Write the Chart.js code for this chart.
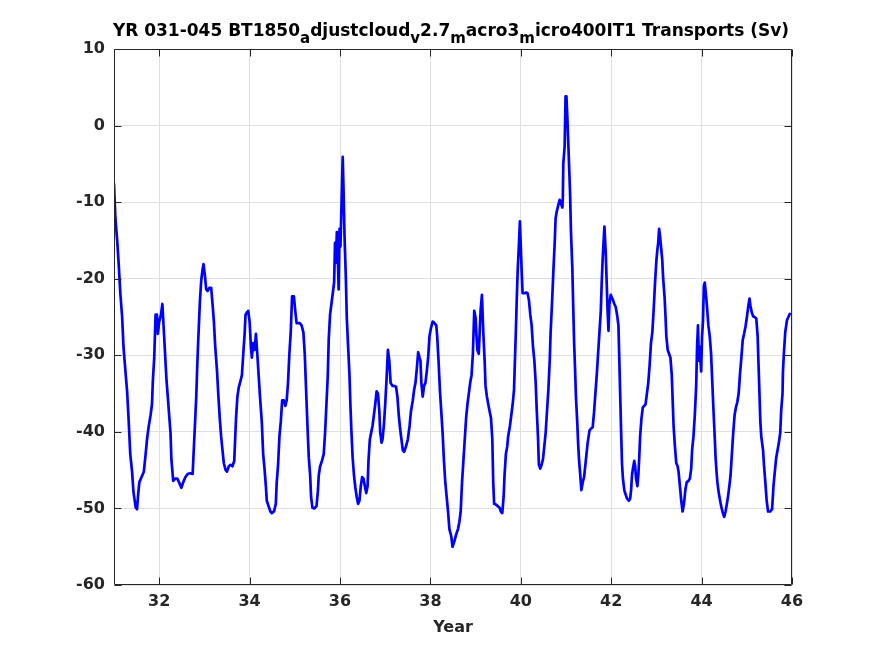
<!DOCTYPE html>
<html>
<head>
<meta charset="utf-8">
<script src="https://cdn.jsdelivr.net/npm/chart.js@4.4.0/dist/chart.umd.min.js"></script>
<style>
  html, body { margin: 0; padding: 0; background: #ffffff; }
  #wrap { width: 875px; height: 656px; }
</style>
</head>
<body>
<div id="wrap"><canvas id="c" width="875" height="656"></canvas></div>
<script>
// ---- data ----
const years = [
  31.00,31.03,31.07,31.10,31.14,31.18,31.21,31.26,31.29,31.32,31.36,31.40,31.43,31.48,31.51,31.53,31.56,31.61,31.66,31.70,
  31.73,31.77,31.81,31.84,31.86,31.89,31.92,31.95,31.97,32.00,32.04,32.07,32.10,32.13,32.16,32.19,32.22,32.25,32.27,32.31,
  32.36,32.40,32.44,32.49,32.53,32.58,32.63,32.68,32.74,32.76,32.79,32.82,32.84,32.86,32.88,32.90,32.93,32.96,32.98,33.01,
  33.04,33.07,33.11,33.15,33.18,33.21,33.24,33.28,33.31,33.34,33.37,33.40,33.43,33.47,33.50,33.54,33.58,33.62,33.66,33.68,
  33.70,33.73,33.76,33.80,33.83,33.86,33.89,33.91,33.94,33.97,34.00,34.03,34.05,34.08,34.11,34.14,34.17,34.20,34.23,34.27,
  34.30,34.33,34.36,34.38,34.42,34.46,34.49,34.54,34.58,34.60,34.63,34.66,34.69,34.72,34.76,34.79,34.82,34.85,34.88,34.91,
  34.94,34.98,35.01,35.04,35.07,35.11,35.15,35.19,35.22,35.25,35.28,35.31,35.34,35.36,35.39,35.43,35.48,35.51,35.53,35.56,
  35.60,35.64,35.67,35.70,35.73,35.75,35.78,35.81,
  35.87,35.89,35.91,35.93,35.95,35.97,35.99,36.01,36.04,36.06,36.08,36.10,36.13,36.15,36.18,36.21,36.23,36.25,36.28,36.31,
  36.34,36.37,36.40,36.43,36.46,36.49,36.52,36.55,36.58,36.61,36.63,36.66,36.69,36.72,36.75,36.78,36.81,36.84,36.87,36.89,
  36.92,36.94,36.97,37.00,37.03,37.06,37.09,37.12,37.16,37.20,37.24,37.27,37.30,37.33,37.36,37.39,37.42,37.46,37.50,37.54,
  37.57,37.61,37.64,37.67,37.70,37.73,37.76,37.78,37.80,37.83,37.86,37.89,37.92,37.95,37.98,38.01,38.05,38.09,38.13,38.15,
  38.18,38.21,38.24,38.27,38.30,38.33,38.36,38.39,38.42,38.46,38.49,38.53,38.57,38.61,38.64,38.67,38.70,38.73,38.76,38.79,
  38.82,38.85,38.88,38.91,38.94,38.97,39.00,39.02,39.04,39.07,39.09,39.11,39.14,39.17,39.20,39.22,39.25,39.28,39.31,39.34,
  39.37,39.39,39.41,39.45,39.49,39.53,39.56,39.59,39.62,39.64,39.67,39.70,39.72,39.76,39.79,39.82,39.85,39.87,39.89,39.91,
  39.93,39.96,39.98,40.00,40.02,40.04,40.08,40.12,40.15,40.18,40.21,40.24,40.27,40.30,40.33,40.35,40.38,40.40,40.43,40.46,
  40.49,40.52,40.55,40.58,40.61,40.64,40.66,40.69,40.72,40.75,40.77,40.80,40.83,40.86,40.89,40.92,40.93,40.94,40.97,40.99,
  41.01,
  41.03,41.05,41.07,41.09,41.11,41.14,41.16,41.18,41.20,41.22,41.25,41.27,41.29,41.31,41.34,41.37,41.40,41.42,41.45,41.48,
  41.52,41.55,41.59,41.62,41.65,41.68,41.71,41.74,41.77,41.79,41.81,41.83,41.85,41.88,41.90,41.92,41.94,41.96,41.99,42.01,
  42.04,42.07,42.10,42.13,42.16,42.18,42.20,42.22,42.24,42.26,42.29,42.32,42.35,42.39,42.42,42.44,42.46,42.48,42.51,42.53,
  42.55,42.58,42.60,42.62,42.64,42.67,42.70,42.73,42.76,42.79,42.82,42.85,42.88,42.91,42.94,42.97,43.00,43.02,43.04,43.06,
  43.08,43.11,43.13,43.15,43.18,43.20,43.22,43.25,43.28,43.31,43.34,43.36,43.38,43.41,43.44,43.47,43.49,43.52,43.55,43.58,
  43.61,43.64,43.67,43.71,43.74,43.77,43.79,43.82,43.85,43.88,43.90,43.92,43.94,43.96,43.99,44.01,44.03,44.05,44.07,44.10,
  44.12,44.15,44.18,44.21,44.23,44.26,44.29,44.31,44.33,44.35,44.38,44.41,44.44,44.47,44.50,44.53,44.56,44.59,44.62,44.64,
  44.67,44.70,44.73,44.76,44.79,44.82,44.85,44.88,44.91,44.94,44.97,45.00,45.02,45.04,45.06,45.08,45.11,45.14,45.17,45.21,
  45.24,45.26,45.28,45.30,45.32,45.36,45.38,45.41,45.44,45.47,45.52,45.56,45.59,45.62,45.65,45.68,45.71,45.74,45.76,45.79,
  45.80,45.82,45.85,45.89,45.95
];
const transports = [
  -7.6,-12,-15,-17.7,-21.9,-25,-28.9,-32.6,-34.7,-38,-42.9,-45.2,-47.8,-49.9,-50.1,-48.5,-46.6,-45.9,-45.2,-42.9,
  -41,-39.2,-37.8,-36.4,-33.3,-30.3,-24.7,-24.7,-27.2,-25.6,-24.7,-23.3,-26.5,-29.8,-33.1,-35.4,-37.8,-40.1,-43.6,-46.4,
  -46.1,-46.1,-46.6,-47.3,-46.6,-45.9,-45.5,-45.4,-45.5,-42.9,-39.2,-35.4,-31.7,-28.6,-25.8,-23,-20.2,-18.8,-18.1,-19.5,
  -21.4,-21.6,-21.2,-21.2,-23.3,-25.6,-28.9,-32.1,-35.4,-38.2,-40.6,-42.4,-44.1,-45,-45.2,-44.5,-44.3,-44.5,-43.8,-41,
  -38.2,-35.4,-34.2,-33.3,-32.6,-29.8,-27.2,-24.7,-24.4,-24.2,-25.6,-28.9,-30.3,-28.4,-29.3,-27.2,-29.8,-32.6,-35.4,-38.7,
  -42.9,-44.8,-47.1,-49,-49.7,-50.4,-50.6,-50.4,-49.4,-46.6,-44.3,-40.6,-38.7,-35.9,-35.9,-36.6,-35.9,-33.6,-29.8,-27,
  -22.3,-22.3,-24.2,-25.8,-25.8,-25.8,-26.1,-27,-29.8,-34.5,-39.2,-43.4,-45.7,-48.5,-49.9,-50,-49.7,-47.8,-45.7,-44.5,
  -43.8,-42.9,-40.1,-36.4,-32.6,-28,-24.7,-23.3,
  -20.5,-15.3,-17.9,-13.9,-16.7,-21.4,-13.5,-15.8,-8.8,-4.1,-8.8,-14.4,-20,-25.1,-28.9,-32.6,-36.4,-39.6,-43.4,-45.7,
  -47.3,-48.5,-49.4,-49,-47.1,-45.9,-46.1,-47.1,-48,-47.1,-43.8,-41,-40.1,-39.2,-37.8,-36.4,-34.7,-35,-37.3,-40.1,
  -41.4,-41,-39.2,-36.4,-33.1,-29.3,-30.7,-33.6,-34,-34,-34.1,-35.4,-37.8,-39.6,-41,-42.4,-42.6,-41.9,-41,-39.2,
  -37.3,-35.9,-34.5,-33.6,-31.7,-29.6,-30.3,-30.7,-33.6,-35.4,-34,-33.6,-32.1,-30.3,-27.5,-26.5,-25.6,-25.8,-26.1,-27.5,
  -30.7,-34.5,-37.3,-40.1,-43.8,-46.6,-48.5,-50.4,-52.7,-53.6,-55,-54.3,-53.4,-52.7,-51.8,-50.4,-46.6,-43.8,-41,-38.2,
  -36.4,-35,-33.6,-32.6,-29.8,-24.2,-25.1,-27.5,-29.3,-29.8,-27,-24.2,-22.1,-27,-30.7,-34,-35.4,-36.4,-37.3,-38.2,
  -41,-46.6,-49.4,-49.5,-49.7,-49.9,-50.4,-50.6,-48.5,-45.7,-42.9,-41.9,-40.6,-39.2,-37.8,-36.4,-34.5,-30.7,-27,-22.8,
  -19.1,-15.3,-12.5,-15.8,-19.1,-21.9,-21.9,-21.8,-21.9,-22.8,-24.7,-26.1,-28.9,-30.7,-33.6,-36.8,-40.6,-44.3,-44.8,-44.3,
  -43.6,-41.9,-40.1,-37.3,-34.5,-30.7,-27,-23.3,-19.1,-15.3,-12.1,-11.1,-10.4,-9.7,-10.2,-10.7,-9.3,-5,-2.7,3.8,
  3.8,
  1,-2.2,-5.5,-8.8,-13.9,-18.6,-23.7,-28.4,-31.7,-35.4,-38.9,-41.7,-43.8,-45.2,-47.6,-46.6,-45.9,-44.8,-43.1,-41.4,
  -39.8,-39.6,-39.4,-37.5,-35,-32.6,-29.8,-27,-24.2,-20.5,-17.6,-15.3,-13.2,-16.7,-20.5,-24.2,-26.8,-23.3,-22.1,-22.4,
  -22.8,-23.3,-23.7,-24.7,-26.1,-30.7,-35.4,-40.1,-44.3,-46.1,-47.6,-48.2,-48.7,-49,-48.7,-47.6,-45.7,-44.8,-43.8,-44.5,
  -46.1,-47.1,-45.7,-43.4,-40.6,-38.2,-36.8,-36.6,-36.4,-35,-33.6,-31.3,-28.4,-27,-24,-20.5,-17.6,-16.3,-15.3,-13.5,
  -14.4,-16.3,-17.6,-20,-22.3,-24.7,-27.5,-29.3,-29.8,-30.3,-32.6,-35.9,-39.2,-41.9,-44.1,-44.5,-45.2,-47.1,-49,-50.4,
  -49.4,-47.6,-46.6,-46.4,-46.1,-44.8,-42.4,-40.6,-37.8,-34,-28.9,-26.1,-30.7,-28.9,-32.1,-27.5,-25.6,-20.9,-20.5,-22.3,
  -23.7,-26.1,-27.5,-29.8,-32.6,-36.8,-40.6,-43.4,-45.2,-46.6,-48,-49,-49.9,-50.6,-51.1,-50.4,-49.4,-48.2,-46.8,-45.7,
  -42.9,-40.1,-37.8,-36.8,-36.1,-35,-32.4,-30.3,-28,-27.2,-26.3,-25.1,-24.2,-23.3,-22.6,-23.5,-24.4,-24.9,-25,-25.2,
  -27.5,-31.3,-35,-38.7,-40.6,-42.4,-44.3,-46.6,-49,-50.4,-50.4,-50.1,-47.1,-45.2,-43.4,-42.4,-41.4,-40.1,-37.3,-35,
  -32.1,-29.8,-27,-25.4,-24.6
];
const xTicks = [32, 34, 36, 38, 40, 42, 44, 46];
const yTicks = [-60, -50, -40, -30, -20, -10, 0, 10];
const titleText = 'YR 031-045 BT1850_adjustcloud_v2.7_macro3_micro400IT1 Transports (Sv)';
// title pieces: [text, isSubscript]
const titleParts = [
  ['YR 031-045 BT1850', false], ['a', true], ['djustcloud', false], ['v', true],
  ['2.7', false], ['m', true], ['acro3', false], ['m', true], ['icro400IT1 Transports (Sv)', false]
];
const xLabel = 'Year';

// ---- plot ----
const FONT = 'DejaVu Sans';
const AXC = '#262626';

const matlabAxes = {
  id: 'matlabAxes',
  afterDatasetsDraw(chart) {
    const {ctx, chartArea: a, scales: {x, y}} = chart;
    ctx.save();
    ctx.strokeStyle = AXC;
    ctx.lineWidth = 1;
    const L = Math.round(a.left) + 0.5, R = Math.round(a.right) - 0.5;
    const T = Math.round(a.top) + 0.5, B = Math.round(a.bottom) - 0.5;
    ctx.beginPath();
    ctx.rect(L, T, R - L, B - T);
    const tl = 7;
    xTicks.forEach(v => {
      const px = Math.round(x.getPixelForValue(v)) + 0.5;
      ctx.moveTo(px, B); ctx.lineTo(px, B - tl);
      ctx.moveTo(px, T); ctx.lineTo(px, T + tl);
    });
    yTicks.forEach(v => {
      const py = Math.round(y.getPixelForValue(v)) + 0.5;
      ctx.moveTo(L, py); ctx.lineTo(L + tl, py);
      ctx.moveTo(R, py); ctx.lineTo(R - tl, py);
    });
    ctx.stroke();
    ctx.restore();
  },
  afterDraw(chart) {
    const {ctx, chartArea: a} = chart;
    ctx.save();
    ctx.fillStyle = '#000000';
    ctx.textBaseline = 'alphabetic';
    ctx.textAlign = 'left';
    const mainFont = 'bold 17px "' + FONT + '"';
    const subFont = 'bold 15px "' + FONT + '"';
    let total = 0;
    const widths = titleParts.map(([t, s]) => {
      ctx.font = s ? subFont : mainFont;
      const w = ctx.measureText(t).width;
      total += w;
      return w;
    });
    let xpos = (a.left + a.right) / 2 - 2 - total / 2;
    const base = 36;
    titleParts.forEach(([t, s], i) => {
      ctx.font = s ? subFont : mainFont;
      ctx.fillText(t, xpos, s ? base + 6.5 : base);
      xpos += widths[i];
    });
    ctx.restore();
  }
};

new Chart(document.getElementById('c'), {
  type: 'line',
  data: {
    datasets: [{
      label: titleText,
      data: years.map((yr, i) => ({x: yr, y: transports[i]})),
      borderColor: '#0000ff',
      backgroundColor: '#0000ff',
      borderWidth: 2.7,
      borderJoinStyle: 'round',
      borderCapStyle: 'round',
      borderDash: [100000, 0],
      pointRadius: 0,
      tension: 0,
      fill: false
    }]
  },
  options: {
    responsive: false,
    animation: false,
    devicePixelRatio: 1,
    layout: { padding: { left: 0, right: 83, top: 49, bottom: 0 } },
    plugins: {
      legend: { display: false },
      title: { display: false },
      tooltip: { enabled: false }
    },
    scales: {
      x: {
        type: 'linear',
        min: 31, max: 46,
        afterBuildTicks: s => { s.ticks = xTicks.map(v => ({value: v})); },
        afterFit: s => { s.height = 71; },
        grid: { color: '#dfdfdf', lineWidth: 1, drawTicks: false },
        border: { display: false },
        ticks: {
          autoSkip: false, maxRotation: 0, padding: 7,
          color: AXC, font: { family: FONT, size: 16, weight: 'bold' }
        },
        title: {
          display: true, text: xLabel, color: AXC,
          font: { family: FONT, size: 16, weight: 'bold' },
          padding: { top: 0, bottom: 19 }
        }
      },
      y: {
        min: -60, max: 10,
        afterBuildTicks: s => { s.ticks = yTicks.map(v => ({value: v})); },
        afterFit: s => { s.width = 114; },
        grid: { color: '#dfdfdf', lineWidth: 1, drawTicks: false },
        border: { display: false },
        ticks: {
          padding: 9, color: AXC,
          font: { family: FONT, size: 16, weight: 'bold' }
        }
      }
    }
  },
  plugins: [matlabAxes]
});
</script>
</body>
</html>
